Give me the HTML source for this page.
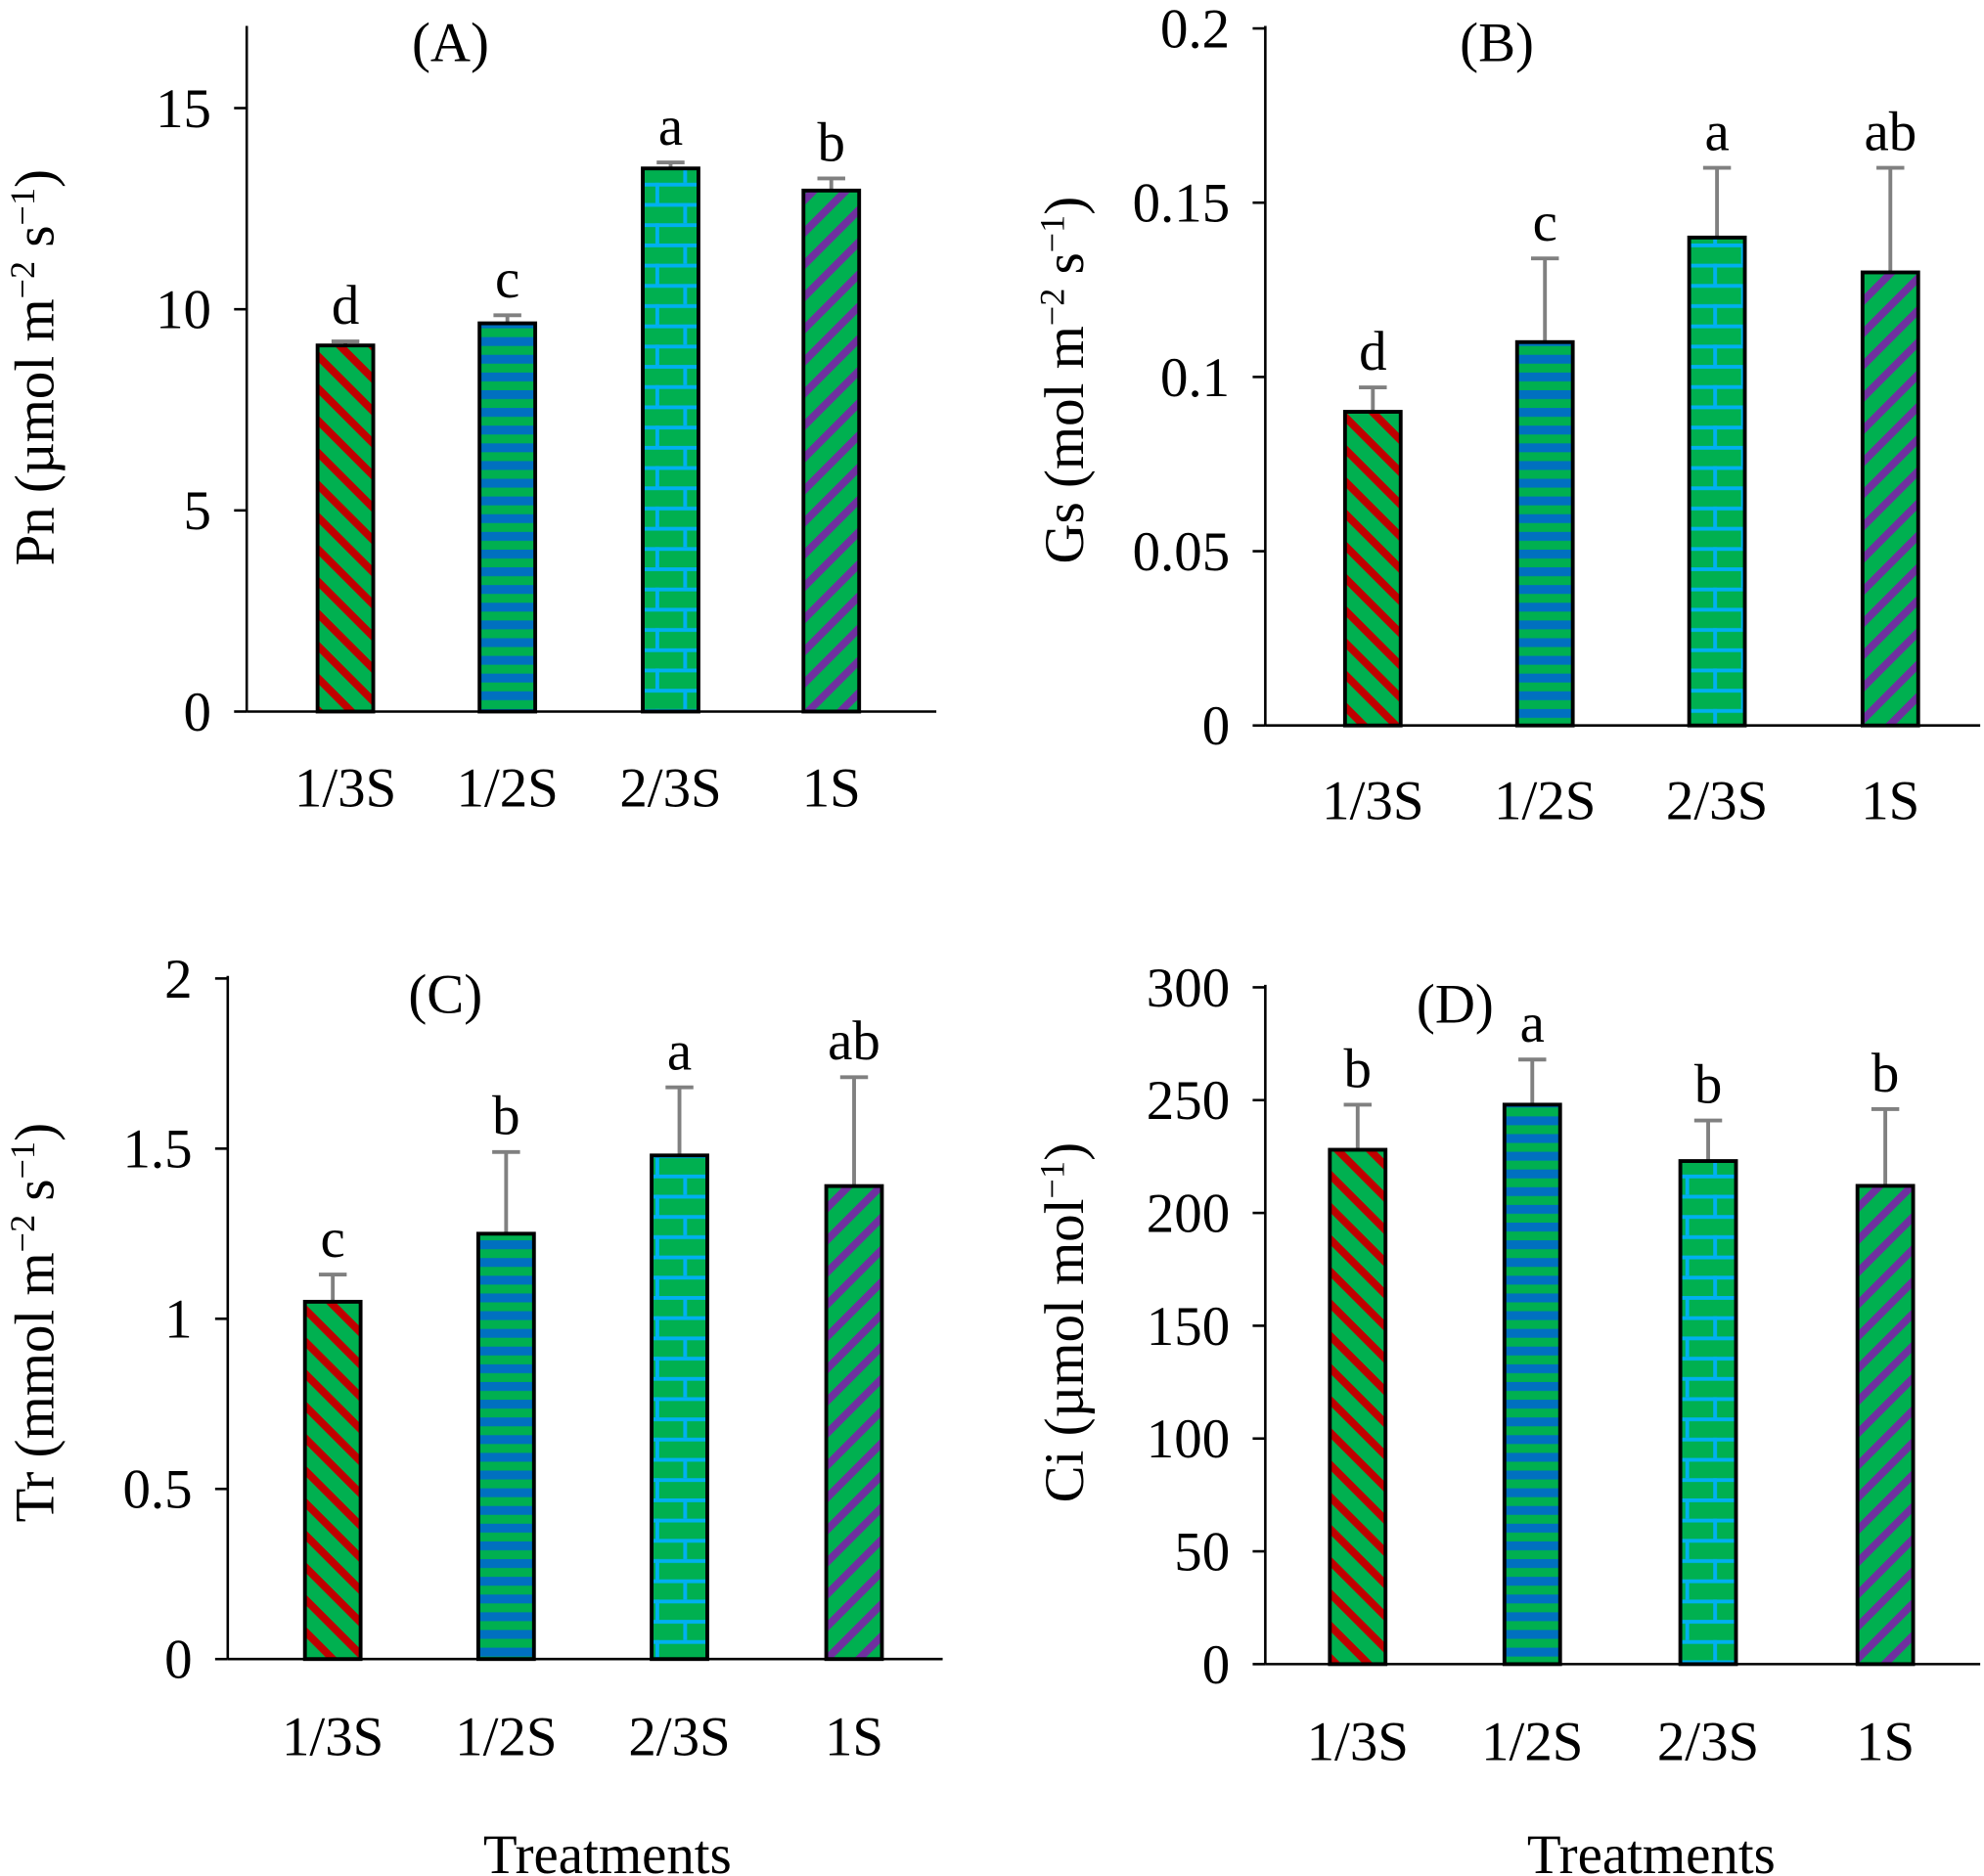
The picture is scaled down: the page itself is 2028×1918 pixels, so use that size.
<!DOCTYPE html>
<html><head><meta charset="utf-8"><style>html,body{margin:0;padding:0;background:#fff}svg{display:block}text{font-family:"Liberation Serif",serif;fill:#000}</style></head>
<body>
<svg id="fig" xmlns="http://www.w3.org/2000/svg" width="2028" height="1918" viewBox="0 0 1568 1482">
<defs>
<pattern id="pRed" patternUnits="userSpaceOnUse" width="18" height="18" patternTransform="rotate(45)"><rect width="18" height="18" fill="#00b050"/><rect width="18" height="6" fill="#c00000"/></pattern>
<pattern id="pBlue" patternUnits="userSpaceOnUse" width="10" height="14"><rect width="10" height="14" fill="#00b050"/><rect width="10" height="7" fill="#0070c0"/></pattern>
<pattern id="pBrick" patternUnits="userSpaceOnUse" width="44" height="32"><rect width="44" height="32" fill="#00b050"/><rect y="0" width="44" height="3" fill="#00b0f0"/><rect y="16" width="44" height="3" fill="#00b0f0"/><rect x="12" y="0" width="3" height="16" fill="#00b0f0"/><rect x="34" y="16" width="3" height="16" fill="#00b0f0"/></pattern>
<pattern id="pPurple" patternUnits="userSpaceOnUse" width="18" height="18" patternTransform="rotate(-45)"><rect width="18" height="18" fill="#00b050"/><rect width="18" height="6" fill="#7030a0"/></pattern>
</defs>
</svg>
<script>
const categories = ["1/3S","1/2S","2/3S","1S"];
const pnValues = [9.1, 9.65, 13.5, 12.95];
const pnErrors = [0.1, 0.2, 0.15, 0.3];
const pnLetters = ["d","c","a","b"];
const pnTicks = [0,5,10,15];
const gsValues = [0.09, 0.11, 0.14, 0.13];
const gsErrors = [0.007, 0.024, 0.02, 0.03];
const gsLetters = ["d","c","a","ab"];
const gsTicks = [0,0.05,0.1,0.15,0.2];
const trValues = [1.05, 1.25, 1.48, 1.39];
const trErrors = [0.08, 0.24, 0.2, 0.32];
const trLetters = ["c","b","a","ab"];
const trTicks = [0,0.5,1,1.5,2];
const ciValues = [228, 248, 223, 212];
const ciErrors = [20, 20, 18, 34];
const ciLetters = ["b","a","b","b"];
const ciTicks = [0,50,100,150,200,250,300];

const NS="http://www.w3.org/2000/svg";
const svg=document.getElementById('fig');
const fills=["url(#pRed)","url(#pBlue)","url(#pBrick)","url(#pPurple)"];
const FS=44;
function el(tag,attrs,parent,txt){const e=document.createElementNS(NS,tag);for(const k in attrs)e.setAttribute(k,attrs[k]);if(txt!==undefined)e.textContent=txt;(parent||svg).appendChild(e);return e;}

function panel(p){
  const g=el('g',{});
  
  
  const y=v=>p.y0-(v-p.vmin)/(p.vmax-p.vmin)*(p.y0-p.yTop);
  const x=i=>p.xc[i];
  const ax=el('line',{x1:p.ax,y1:p.yTop-2,x2:p.ax,y2:p.y0,stroke:'#000','stroke-width':2},g);
  
  
  const xa=el('line',{x1:p.ax,y1:p.y0,x2:p.xEnd,y2:p.y0,stroke:'#000','stroke-width':2},g);
  
  
  p.ticks.forEach(t=>{
    el('line',{x1:p.ax-10,y1:y(t),x2:p.ax,y2:y(t),stroke:'#000','stroke-width':2},g);
    const tl=el('text',{x:p.ax-28,y:y(t)+15,'text-anchor':'end','font-size':FS},g,String(t));
    
    
  });
  p.vals.forEach((v,i)=>{
    const bw=44;
    const ey=y(v+p.errs[i]);
    el('line',{x1:x(i),y1:y(v),x2:x(i),y2:ey,stroke:'#808080','stroke-width':3},g);
    el('line',{x1:x(i)-11,y1:ey,x2:x(i)+11,y2:ey,stroke:'#808080','stroke-width':3},g);
    const b=el('rect',{x:x(i)-bw/2,y:y(v),width:bw,height:p.y0-y(v),fill:fills[i],stroke:'#000','stroke-width':3},g);
    
    
    const lt=el('text',{x:x(i),y:ey-14,'text-anchor':'middle','font-size':FS},g,p.letters[i]);
    
    
    const cl=el('text',{x:x(i),y:p.catY,'text-anchor':'middle','font-size':FS},g,categories[i]);
    
    
  });
  const pt=el('text',{x:p.tx,y:p.ty,'text-anchor':'middle','font-size':FS},g,p.title);
  
  
  const yt=el('text',{x:0,y:0,'text-anchor':'middle','font-size':FS,transform:`translate(${p.ytx},${p.yty}) rotate(-90)`},g);
  yt.innerHTML=p.ytitle;
  
  
}
const sup=s=>`<tspan font-size="28" dy="-15">${s}</tspan><tspan dy="15">`;
panel({name:'panel-a-pn',ax:195,xEnd:740,y0:562,yTop:22,vmin:0,vmax:16.98,ticks:pnTicks,vals:pnValues,errs:pnErrors,letters:pnLetters,xc:[273,401,530,657],catY:637,title:'(A)',tx:356,ty:48,ytx:42,yty:290,ytitle:'Pn (µmol m'+sup('−2')+' s</tspan>'+sup('−1')+')</tspan>'});
panel({name:'panel-b-gs',ax:1000,xEnd:1565,y0:573,yTop:22,vmin:0,vmax:0.2,ticks:gsTicks,vals:gsValues,errs:gsErrors,letters:gsLetters,xc:[1085,1221,1357,1494],catY:647,title:'(B)',tx:1183,ty:48,ytx:856,yty:300,ytitle:'Gs (mol m'+sup('−2')+' s</tspan>'+sup('−1')+')</tspan>'});
panel({name:'panel-c-tr',ax:180,xEnd:745,y0:1311,yTop:773,vmin:0,vmax:2,ticks:trTicks,vals:trValues,errs:trErrors,letters:trLetters,xc:[263,400,537,675],catY:1387,title:'(C)',tx:352,ty:800,ytx:42,yty:1045,ytitle:'Tr (mmol m'+sup('−2')+' s</tspan>'+sup('−1')+')</tspan>'});
panel({name:'panel-d-ci',ax:1000,xEnd:1565,y0:1315,yTop:780,vmin:0,vmax:300,ticks:ciTicks,vals:ciValues,errs:ciErrors,letters:ciLetters,xc:[1073,1211,1350,1490],catY:1391,title:'(D)',tx:1150,ty:808,ytx:856,yty:1045,ytitle:'Ci (µmol mol'+sup('−1')+')</tspan>'});
[[480,'x-axis-title-left'],[1305,'x-axis-title-right']].forEach(([xx,n])=>{
  const t=el('text',{x:xx,y:1480,'text-anchor':'middle','font-size':FS},svg,'Treatments');
  
  
});
</script>
</body></html>
